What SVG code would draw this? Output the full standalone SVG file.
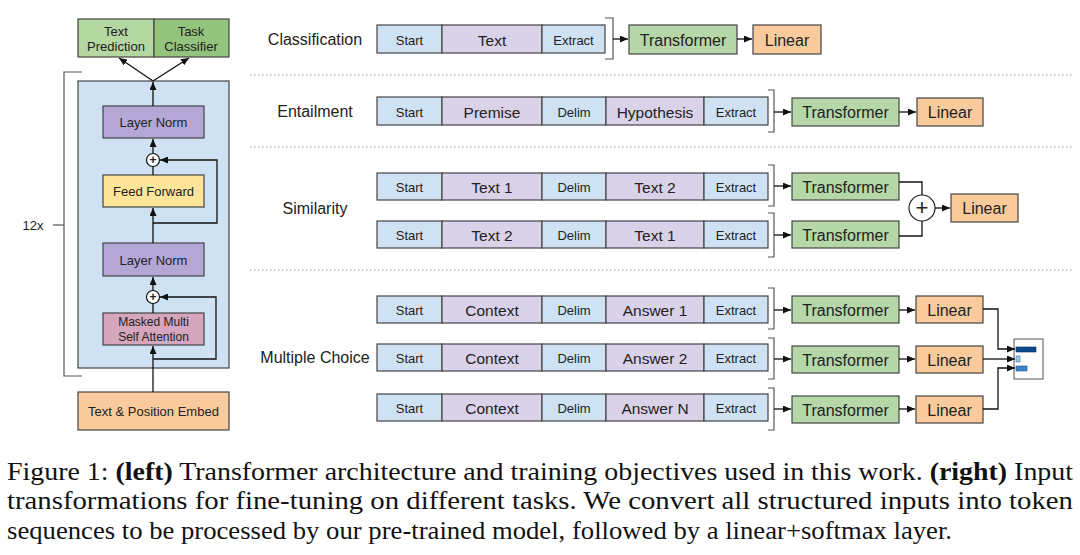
<svg xmlns="http://www.w3.org/2000/svg" width="1080" height="555" viewBox="0 0 1080 555">
<defs>
<marker id="ah" markerWidth="8" markerHeight="7" refX="8" refY="3.5" orient="auto" markerUnits="userSpaceOnUse">
<path d="M0,0 L8,3.5 L0,7 z" fill="#111"/>
</marker>
<style>
text{font-family:"Liberation Sans",Arial,sans-serif;fill:#222;text-anchor:middle;dominant-baseline:central}
.b{stroke:#444;stroke-width:1.2}
.blue{fill:#cfe2f3}.pur{fill:#d9d2e9}.grn{fill:#b6d7a8}.org{fill:#f9cb9c}
.s13{font-size:13px}.s15{font-size:15.5px}.s16{font-size:16px}
.ln{fill:none;stroke:#111;stroke-width:1.3}
.ar{marker-end:url(#ah)}
.br{fill:none;stroke:#555;stroke-width:1.2}
.dot{stroke:#999;stroke-width:1;stroke-dasharray:1.5,2.5}
.lbl{font-size:16px}
.cap{font-family:"Liberation Serif","Times New Roman",serif;font-size:26px;fill:#111;text-anchor:start;dominant-baseline:auto}
</style>
</defs>
<rect width="1080" height="555" fill="#fff"/>

<!-- LEFT: transformer -->
<g id="heads">
<rect x="78" y="19" width="76" height="38" fill="#b5d7a1" class="b"/>
<rect x="154" y="19" width="75" height="38" fill="#93c47d" class="b"/>
<text x="116" y="31" class="s13">Text</text>
<text x="116" y="46" class="s13">Prediction</text>
<text x="191" y="31" class="s13">Task</text>
<text x="191" y="46" class="s13">Classifier</text>
</g>
<g id="block">
<rect x="78" y="81" width="151" height="287" fill="#cfe2f3" class="b"/>
</g>
<g id="layernorm1">
<rect x="103" y="106" width="101" height="32" fill="#b4a7d6" class="b"/>
<text x="153.5" y="122" class="s13">Layer Norm</text>
</g>
<g id="add1"><circle cx="153" cy="160" r="6.5" fill="#fff" stroke="#111" stroke-width="1.2"/><text x="153" y="159.5" style="font-size:12px;font-weight:bold">+</text></g>
<g id="feedforward">
<rect x="103" y="175" width="101" height="32" fill="#ffe599" class="b"/>
<text x="153.5" y="191" class="s13">Feed Forward</text>
</g>
<g id="layernorm2">
<rect x="103" y="243" width="101" height="33" fill="#b4a7d6" class="b"/>
<text x="153.5" y="260" class="s13">Layer Norm</text>
</g>
<g id="add2"><circle cx="153" cy="297" r="6.5" fill="#fff" stroke="#111" stroke-width="1.2"/><text x="153" y="296.5" style="font-size:12px;font-weight:bold">+</text></g>
<g id="attention">
<rect x="103" y="313" width="101" height="32" fill="#d5a6bd" class="b"/>
<text x="153.5" y="322" style="font-size:12px">Masked Multi</text>
<text x="153.5" y="337" style="font-size:12px">Self Attention</text>
</g>
<g id="embed">
<rect x="78" y="392" width="151" height="38" fill="#f9cb9c" class="b"/>
<text x="153.5" y="411" class="s13">Text &amp; Position Embed</text>
</g>
<g id="repeat">
<path d="M82,72 H64 V376 H82" class="br" stroke="#888"/>
<path d="M53,225 H64" class="br"/>
<text x="33" y="225" class="s13">12x</text>
</g>
<g id="left-connectors">
<path d="M153,392 V346" class="ln ar"/>
<path d="M153,313 V303.5" class="ln"/>
<path d="M153,359 H216 V297 H160" class="ln ar"/>
<path d="M153,290.5 V277" class="ln ar"/>
<path d="M153,243 V208" class="ln ar"/>
<path d="M153,223 H217 V160 H160" class="ln ar"/>
<path d="M153,175 V166.5" class="ln"/>
<path d="M153,153.5 V139" class="ln ar"/>
<path d="M153,106 V82" class="ln ar"/>
<path d="M153,81 L119,58" class="ln ar"/>
<path d="M153,81 L189,58" class="ln ar"/>
</g>

<!-- RIGHT -->
<g id="separators">
<line x1="250" y1="75" x2="1072" y2="75" class="dot"/>
<line x1="250" y1="147" x2="1072" y2="147" class="dot"/>
<line x1="250" y1="270" x2="1072" y2="270" class="dot"/>
</g>
<g id="labels">
<text x="315" y="39" class="lbl">Classification</text>
<text x="315" y="111" class="lbl">Entailment</text>
<text x="315" y="208" class="lbl">Similarity</text>
<text x="315" y="357" class="lbl">Multiple Choice</text>
</g>

<g id="cls-seq">
<rect x="377" y="25" width="65" height="28" class="blue b"/><text x="409.5" y="40" class="s13">Start</text>
<rect x="442" y="25" width="100" height="28" class="pur b"/><text x="492" y="40" class="s15">Text</text>
<rect x="542" y="25" width="63" height="28" class="blue b"/><text x="573.5" y="40" class="s13">Extract</text>
<path d="M605,18 H613 V59 H605" class="br"/>
</g>
<g id="cls-transformer"><rect x="629" y="25" width="108" height="29" class="grn b"/><text x="683" y="40" class="s16">Transformer</text></g>
<g id="cls-linear"><rect x="753" y="25" width="68" height="29" class="org b"/><text x="787" y="40" class="s16">Linear</text></g>

<g id="ent-seq">
<rect x="377" y="97" width="65" height="28" class="blue b"/><text x="409.5" y="112" class="s13">Start</text>
<rect x="442" y="97" width="100" height="28" class="pur b"/><text x="492" y="112" class="s15">Premise</text>
<rect x="542" y="97" width="64" height="28" class="blue b"/><text x="574" y="112" class="s13">Delim</text>
<rect x="606" y="97" width="98" height="28" class="pur b"/><text x="655" y="112" class="s15">Hypothesis</text>
<rect x="704" y="97" width="64" height="28" class="blue b"/><text x="736" y="112" class="s13">Extract</text>
<path d="M768,90 H774 V132 H768" class="br"/>
</g>
<g id="ent-transformer"><rect x="792" y="98" width="107" height="28" class="grn b"/><text x="845.5" y="112" class="s16">Transformer</text></g>
<g id="ent-linear"><rect x="917" y="98" width="66" height="28" class="org b"/><text x="950" y="112" class="s16">Linear</text></g>

<g id="sim-seq1">
<rect x="377" y="173" width="65" height="27" class="blue b"/><text x="409.5" y="187" class="s13">Start</text>
<rect x="442" y="173" width="100" height="27" class="pur b"/><text x="492" y="187" class="s15">Text 1</text>
<rect x="542" y="173" width="64" height="27" class="blue b"/><text x="574" y="187" class="s13">Delim</text>
<rect x="606" y="173" width="98" height="27" class="pur b"/><text x="655" y="187" class="s15">Text 2</text>
<rect x="704" y="173" width="64" height="27" class="blue b"/><text x="736" y="187" class="s13">Extract</text>
<path d="M768,165 H774 V206 H768" class="br"/>
</g>
<g id="sim-seq2">
<rect x="377" y="221" width="65" height="27" class="blue b"/><text x="409.5" y="235" class="s13">Start</text>
<rect x="442" y="221" width="100" height="27" class="pur b"/><text x="492" y="235" class="s15">Text 2</text>
<rect x="542" y="221" width="64" height="27" class="blue b"/><text x="574" y="235" class="s13">Delim</text>
<rect x="606" y="221" width="98" height="27" class="pur b"/><text x="655" y="235" class="s15">Text 1</text>
<rect x="704" y="221" width="64" height="27" class="blue b"/><text x="736" y="235" class="s13">Extract</text>
<path d="M768,213 H774 V257 H768" class="br"/>
</g>
<g id="sim-transformer1"><rect x="792" y="173" width="107" height="27" class="grn b"/><text x="845.5" y="187" class="s16">Transformer</text></g>
<g id="sim-transformer2"><rect x="792" y="221" width="107" height="27" class="grn b"/><text x="845.5" y="235" class="s16">Transformer</text></g>
<g id="sim-add"><circle cx="922" cy="208" r="13" fill="#fff" stroke="#222" stroke-width="1.2"/><text x="922" y="207" style="font-size:22px">+</text></g>
<g id="sim-linear"><rect x="951" y="194" width="67" height="28" class="org b"/><text x="984.5" y="208" class="s16">Linear</text></g>

<g id="mc-seq1">
<rect x="377" y="296" width="65" height="27" class="blue b"/><text x="409.5" y="310" class="s13">Start</text>
<rect x="442" y="296" width="100" height="27" class="pur b"/><text x="492" y="310" class="s15">Context</text>
<rect x="542" y="296" width="64" height="27" class="blue b"/><text x="574" y="310" class="s13">Delim</text>
<rect x="606" y="296" width="98" height="27" class="pur b"/><text x="655" y="310" class="s15">Answer 1</text>
<rect x="704" y="296" width="64" height="27" class="blue b"/><text x="736" y="310" class="s13">Extract</text>
<path d="M768,288 H774 V329 H768" class="br"/>
</g>
<g id="mc-seq2">
<rect x="377" y="344" width="65" height="27" class="blue b"/><text x="409.5" y="358" class="s13">Start</text>
<rect x="442" y="344" width="100" height="27" class="pur b"/><text x="492" y="358" class="s15">Context</text>
<rect x="542" y="344" width="64" height="27" class="blue b"/><text x="574" y="358" class="s13">Delim</text>
<rect x="606" y="344" width="98" height="27" class="pur b"/><text x="655" y="358" class="s15">Answer 2</text>
<rect x="704" y="344" width="64" height="27" class="blue b"/><text x="736" y="358" class="s13">Extract</text>
<path d="M768,338 H774 V379 H768" class="br"/>
</g>
<g id="mc-seq3">
<rect x="377" y="394" width="65" height="27" class="blue b"/><text x="409.5" y="408" class="s13">Start</text>
<rect x="442" y="394" width="100" height="27" class="pur b"/><text x="492" y="408" class="s15">Context</text>
<rect x="542" y="394" width="64" height="27" class="blue b"/><text x="574" y="408" class="s13">Delim</text>
<rect x="606" y="394" width="98" height="27" class="pur b"/><text x="655" y="408" class="s15">Answer N</text>
<rect x="704" y="394" width="64" height="27" class="blue b"/><text x="736" y="408" class="s13">Extract</text>
<path d="M768,388 H774 V430 H768" class="br"/>
</g>
<g id="mc-transformer1"><rect x="792" y="296" width="107" height="27" class="grn b"/><text x="845.5" y="310" class="s16">Transformer</text></g>
<g id="mc-transformer2"><rect x="792" y="346" width="107" height="27" class="grn b"/><text x="845.5" y="360" class="s16">Transformer</text></g>
<g id="mc-transformer3"><rect x="792" y="396" width="107" height="27" class="grn b"/><text x="845.5" y="410" class="s16">Transformer</text></g>
<g id="mc-linear1"><rect x="916" y="296" width="67" height="27" class="org b"/><text x="949.5" y="310" class="s16">Linear</text></g>
<g id="mc-linear2"><rect x="916" y="346" width="67" height="27" class="org b"/><text x="949.5" y="360" class="s16">Linear</text></g>
<g id="mc-linear3"><rect x="916" y="396" width="67" height="27" class="org b"/><text x="949.5" y="410" class="s16">Linear</text></g>
<g id="mc-softmax">
<rect x="1014" y="339" width="29" height="40" fill="#fff" stroke="#555" stroke-width="1"/>
<rect x="1016" y="347" width="20" height="5" fill="#0b4a8b" stroke="#08305c" stroke-width="0.6"/>
<rect x="1016" y="356" width="4" height="6" fill="#9fc5e8" stroke="#3d6fa8" stroke-width="0.6"/>
<rect x="1016" y="366" width="11" height="5" fill="#3d85c6" stroke="#1d4f86" stroke-width="0.6"/>
</g>

<g id="connectors">
<path d="M613,39 H628" class="ln ar"/>
<path d="M737,39 H752" class="ln ar"/>
<path d="M774,112 H791" class="ln ar"/>
<path d="M899,112 H916" class="ln ar"/>
<path d="M774,186 H791" class="ln ar"/>
<path d="M774,235 H791" class="ln ar"/>
<path d="M899,182 H922 V195" class="ln" stroke-width="1"/>
<path d="M899,236 H922 V221" class="ln" stroke-width="1"/>
<path d="M935,208 H950" class="ln ar"/>
<path d="M774,310 H791" class="ln ar"/>
<path d="M774,359 H791" class="ln ar"/>
<path d="M774,409 H791" class="ln ar"/>
<path d="M899,310 H915" class="ln ar"/>
<path d="M899,359 H915" class="ln ar"/>
<path d="M899,409 H915" class="ln ar"/>
<path d="M983,309 H998 V349 H1015" class="ln ar" stroke-width="1"/>
<path d="M983,359 H1015" class="ln ar" stroke-width="1"/>
<path d="M983,409 H998 V368 H1015" class="ln ar" stroke-width="1"/>
</g>

<g id="caption">
<text x="7" y="480" class="cap" textLength="1066" lengthAdjust="spacingAndGlyphs">Figure 1: <tspan font-weight="bold">(left)</tspan> Transformer architecture and training objectives used in this work. <tspan font-weight="bold">(right)</tspan> Input</text>
<text x="7" y="509" class="cap" textLength="1066" lengthAdjust="spacingAndGlyphs">transformations for fine-tuning on different tasks.  We convert all structured inputs into token</text>
<text x="7" y="539" class="cap" textLength="945" lengthAdjust="spacingAndGlyphs">sequences to be processed by our pre-trained model, followed by a linear+softmax layer.</text>
</g>
</svg>
